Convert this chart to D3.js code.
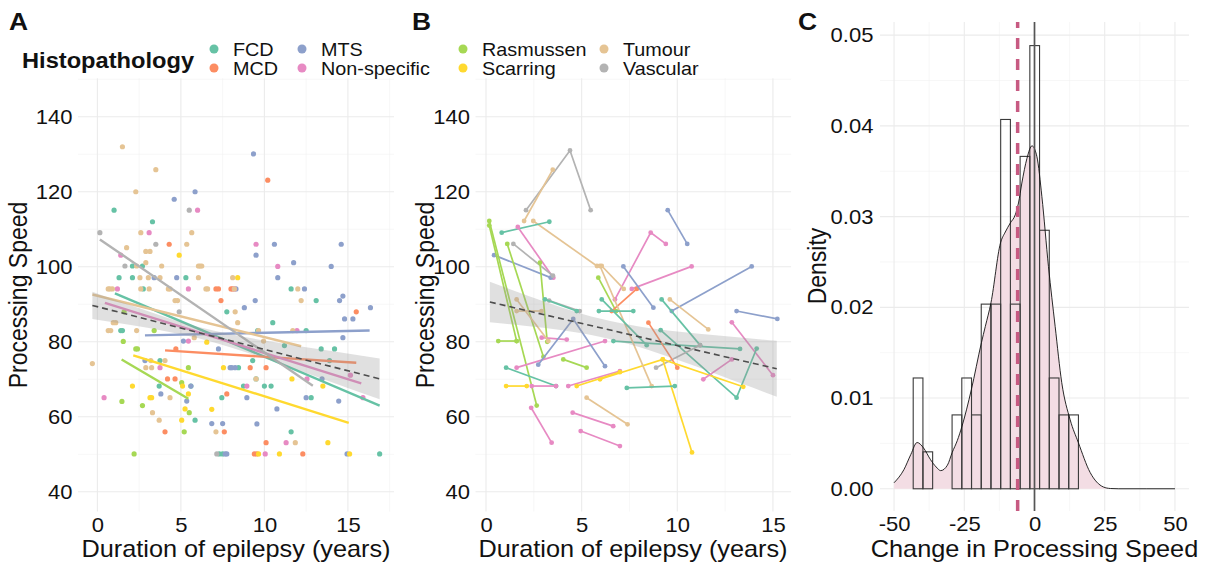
<!DOCTYPE html>
<html><head><meta charset="utf-8">
<script src="https://cdn.jsdelivr.net/npm/d3@7"></script>
<style>body{margin:0;background:#fff} svg text{font-family:"Liberation Sans",Arial,sans-serif;fill:#111}</style>
</head><body>
<svg id="c" width="1209" height="570"></svg>
<script>
// ---------------- DATA ----------------
const categories = ["FCD","MCD","MTS","Non-specific","Rasmussen","Scarring","Tumour","Vascular"];
const palette = ["#66C2A5","#FC8D62","#8DA0CB","#E78AC3","#A6D854","#FFD92F","#E5C494","#B3B3B3"];

const xTicksAB = [0,5,10,15];
const yTicksAB = [40,60,80,100,120,140];
const xTicksC = [-50,-25,0,25,50];
const yTicksC = [0,0.01,0.02,0.03,0.04,0.05];

// Panel A: [duration, processing speed] per histopathology
const aFCD = [[1.0,115.1],[3.3,112.0],[2.1,100.2],[2.7,100.2],[1.3,97.1],[2.1,97.1],[5.3,97.1],[2.75,94.1],[1.4,83.0],[1.5,83.0],[3.75,75.0],[3.7,68.2],[5.6,68.2],[5.85,59.1],[7.45,65.1],[7.3,50.1],[7.5,50.1],[7.75,88.0],[11.6,94.1],[13.1,91.0],[10.5,85.1],[9.6,83.0],[12.5,83.0],[11.2,79.0],[13.4,78.1],[14.2,78.1],[9.3,75.0],[13.9,75.0],[8.45,73.1],[9.5,70.1],[8.75,68.2],[10.0,68.2],[10.4,68.2],[12.8,65.1],[11.6,56.0],[16.9,50.1]];
const aMCD = [[4.3,106.0],[10.2,123.1],[4.2,70.1],[4.65,70.1],[7.75,66.1],[4.05,56.0],[7.6,56.0],[7.1,94.1],[7.25,94.1],[8.0,94.1],[7.4,91.0],[15.5,88.0],[9.15,73.1],[10.1,73.1],[10.1,53.1],[9.4,50.1],[9.55,50.1],[12.3,50.1],[4.7,78.1],[8.1,94.1]];
const aMTS = [[4.6,118.0],[5.85,120.0],[9.35,130.1],[9.5,103.1],[10.6,106.0],[14.6,106.0],[11.75,101.1],[14.0,100.1],[10.8,97.1],[3.4,97.1],[4.75,97.1],[12.4,94.1],[8.3,94.1],[9.45,91.0],[14.5,91.0],[14.7,92.2],[8.8,89.1],[16.35,89.1],[14.8,86.1],[15.3,86.1],[14.7,81.1],[5.15,80.2],[7.25,78.1],[2.85,75.0],[7.95,73.1],[8.25,73.1],[8.05,73.1],[13.45,70.1],[3.8,66.1],[5.6,68.2],[5.35,64.2],[8.95,65.1],[12.5,65.1],[14.45,64.2],[10.75,62.1],[6.85,58.2],[7.5,58.2],[9.55,58.1],[14.95,50.1],[7.65,50.1],[7.75,50.1]];
const aNonSpecific = [[6.0,115.1],[3.1,109.1],[9.5,106.0],[10.8,100.1],[1.4,103.1],[1.2,94.1],[5.45,94.1],[8.2,94.1],[11.95,83.0],[5.45,80.2],[3.75,73.1],[0.4,65.1],[15.15,71.1],[12.55,70.1],[8.95,68.2],[15.9,65.1],[11.3,53.1],[10.05,50.1]];
const aRasmussen = [[1.47,64.1],[1.55,80.1],[1.6,88.0],[2.2,50.1],[2.3,78.1],[2.4,78.1],[2.7,63.0],[3.4,83.0],[5.05,69.1],[5.45,73.1],[5.5,61.1],[5.2,56.0]];
const aScarring = [[4.9,103.1],[8.4,97.1],[2.1,68.2],[3.15,65.1],[3.25,65.1],[5.1,68.2],[5.45,66.1],[5.25,62.1],[5.05,59.1],[6.85,62.0],[7.55,73.1],[6.55,79.9],[11.65,70.1],[13.5,68.2],[13.8,53.1],[9.65,50.1],[10.9,50.1],[15.1,50.1]];
const aTumour = [[1.5,132],[3.5,125.9],[2.3,120],[2.6,109.1],[5.65,109.1],[5.35,106],[1.75,105.1],[2.9,104.1],[3.15,104.1],[2.35,100.2],[2.9,101.1],[3.85,100.2],[6.05,100.2],[6.15,100.2],[6.25,100.2],[2.55,97.1],[3.05,97.1],[3.75,97.1],[6.05,97.1],[8.1,97.1],[0.65,94.1],[0.75,94.1],[0.9,94.1],[2.6,94.1],[3.1,94.1],[4.25,94.1],[4.35,94.1],[6.5,94.1],[6.6,94.1],[8.2,94.1],[12.0,94.1],[4.65,91.0],[4.8,91.0],[12.2,91.0],[8.25,88.0],[0.65,83],[0.8,83],[0.95,85.1],[1.1,85.1],[2.35,83],[8.4,85.1],[9.65,83],[11.7,83],[5.8,81.1],[9.95,80.2],[2.9,73.1],[3.25,73.1],[3.2,75.0],[4.05,75.0],[4.35,65.1],[3.3,61.1],[3.7,59.1],[7.1,56.0],[9.5,70.1],[11.85,53.1],[-0.3,74.2]];
const aVascular = [[0.15,109.1],[5.5,115.1],[3.5,106],[1.65,100.2],[4.9,88.0],[7.15,50.1]];
const pointsA = [aFCD,aMCD,aMTS,aNonSpecific,aRasmussen,aScarring,aTumour,aVascular];

// Panel A per-group linear fits: start and end [x, y]
const fitStartA = [[1.05,92.9],[4.05,77.7],[2.85,81.7],[0.45,90.4],[1.45,75.3],[2.15,76.4],[-0.3,92.6],[0.15,107.3]];
const fitEndA   = [[16.9,63.0],[15.5,74.4],[16.3,83.0],[15.8,68.9],[5.45,64.8],[15.05,58.4],[12.2,78.8],[12.9,68.3]];

// Panel A overall fit with confidence band
const bandAx = [-0.3,2,4,6,8,10,12,14,16.9];
const bandAlo = [86.05,84.45,82.9,81.0,78.5,75.6,72.45,69.25,64.65];
const bandAhi = [93.35,89.71,86.7,84.0,82.0,80.35,78.9,77.55,75.55];
const fitAllA = [[-0.3,89.7],[16.9,70.1]];

// Panel B: each patient's repeated assessments [duration, speed]
const patientsB = [
 ["Vascular",[[2.09,115.1],[4.39,131.0],[5.47,115.1]]],
 ["Tumour",[[1.99,112.2],[3.49,125.9]]],
 ["Tumour",[[2.47,112.2],[5.8,100.2]]],
 ["FCD",[[0.82,109.1],[3.31,112.0]]],
 ["Non-specific",[[1.66,110.6],[3.52,97.1]]],
 ["MTS",[[0.42,103.1],[3.38,97.1]]],
 ["Vascular",[[1.43,106.1],[3.5,97.6]]],
 ["Rasmussen",[[0.17,112.2],[2.65,63.0]]],
 ["Rasmussen",[[0.17,111.0],[1.6,80.2]]],
 ["Rasmussen",[[1.11,106.1],[3.0,76.0]]],
 ["Rasmussen",[[2.82,101.1],[3.2,80.0]]],
 ["Rasmussen",[[0.64,80.2],[1.6,80.2]]],
 ["Rasmussen",[[5.87,97.1],[6.8,88.2]]],
 ["MTS",[[9.5,115.1],[10.52,106.1]]],
 ["Non-specific",[[6.74,91.3],[8.61,109.1],[9.4,106.1]]],
 ["Non-specific",[[7.62,94.1],[10.75,100.1]]],
 ["MCD",[[6.57,88.2],[7.88,94.1]]],
 ["MTS",[[7.18,100.1],[8.75,89.1]]],
 ["MTS",[[9.71,88.2],[13.89,100.1]]],
 ["Tumour",[[9.61,91.3],[11.62,83.3]]],
 ["FCD",[[9.18,91.3],[11.19,79.1]]],
 ["MTS",[[13.1,88.2],[15.23,86.1]]],
 ["Non-specific",[[12.85,85.2],[15.0,71.1]]],
 ["FCD",[[9.13,83.1],[13.1,65.1],[14.15,78.2]]],
 ["FCD",[[6.66,80.2],[13.28,78.1]]],
 ["Vascular",[[8.89,73.1],[11.19,79.1]]],
 ["MCD",[[8.49,85.1],[10.0,73.1]]],
 ["Scarring",[[5.96,70.0],[9.24,75.3],[13.45,68.0]]],
 ["Scarring",[[9.24,75.3],[10.77,50.5]]],
 ["Non-specific",[[11.36,70.0],[12.85,75.3]]],
 ["Tumour",[[5.96,100.2],[8.66,68.2]]],
 ["Tumour",[[6.05,100.2],[7.2,94.1]]],
 ["FCD",[[6.05,91.3],[8.4,79.1]]],
 ["FCD",[[5.9,88.2],[7.7,88.2]]],
 ["FCD",[[7.36,67.7],[9.87,68.2]]],
 ["FCD",[[1.05,73.1],[3.66,68.2]]],
 ["Scarring",[[1.05,68.2],[2.13,68.2]]],
 ["Non-specific",[[2.39,68.2],[3.66,68.2]]],
 ["Non-specific",[[1.6,73.1],[6.22,80.2]]],
 ["Non-specific",[[2.91,81.1],[4.22,80.6]]],
 ["Non-specific",[[2.36,62.4],[3.43,53.1]]],
 ["Non-specific",[[4.53,61.1],[6.65,57.5]]],
 ["Non-specific",[[4.95,56.2],[7.0,52.2]]],
 ["Non-specific",[[4.3,68.2],[7.0,72.2]]],
 ["Scarring",[[4.74,68.2],[7.0,71.9]]],
 ["MTS",[[2.73,73.9],[4.56,86.1],[6.22,73.5]]],
 ["Tumour",[[1.6,91.3],[3.26,80.2]]],
 ["Tumour",[[1.6,88.2],[2.9,88.2]]],
 ["Vascular",[[3.3,91.0],[4.9,88.2]]],
 ["FCD",[[3.08,91.3],[4.74,88.2]]],
 ["Rasmussen",[[4.04,75.3],[5.26,73.1]]],
 ["Tumour",[[5.26,65.1],[7.4,58.0]]]
];

// Panel B overall fit with confidence band
const bandBx = [0.2,2,4,6,8,10,12,14,15.2];
const bandBlo = [85.2,84.29,83.08,81.3,78.59,75.18,71.47,67.65,65.34];
const bandBhi = [96.0,92.63,89.1,86.12,84.09,82.76,81.71,80.79,80.26];
const fitAllB = [[0.2,90.6],[15.2,72.8]];

// Panel C: histogram of change in processing speed
const binStart = -43.18, binWidth = 3.46;
const binCounts = [3,1,0,0,2,3,2,5,5,10,5,9,12,7,3,2,2];
const densX = [-50,-46.5,-44,-41.8,-39.5,-37,-35,-33.4,-31,-29.3,-27.5,-25.8,-22.5,-18.9,-17.5,-15.5,-12.1,-10.4,-8.6,-6.85,-5.7,-4.5,-2.7,-0.9,0.86,2.63,4.97,7.35,9.7,12.7,15.6,19.8,24.5,27,30,40,50];
const densY = [0.00066,0.0021,0.0038,0.0051,0.0045,0.0032,0.0024,0.0020,0.0026,0.0040,0.0053,0.0069,0.0109,0.0161,0.0179,0.0205,0.0271,0.0283,0.0293,0.0302,0.0315,0.0337,0.0364,0.0378,0.0366,0.0322,0.0245,0.0179,0.0117,0.0076,0.0051,0.0018,0.0002,0.00003,0,0,0];
const meanChange = -6.0;

// ---------------- DRAW ----------------
const SX = 1.1; // horizontal text stretch of the original figure
const svg = d3.select("#c");
const FONT = '"Liberation Sans",Arial,sans-serif';

function label(x, y, str, size, opts={}) {
  const g = svg.append("g").attr("transform", `translate(${x},${y}) scale(${SX},1)` + (opts.rotate ? ` rotate(${opts.rotate})` : ""));
  g.append("text").attr("text-anchor", opts.anchor || "start").attr("font-size", size)
    .attr("font-weight", opts.weight || "normal").text(str);
}

function grid(x, y, xMajor, xMinor, yMajor, yMinor) {
  const g = svg.append("g");
  const [x0, x1] = x.range(), [y0, y1] = y.range();
  const vl = (vals, w, c) => g.selectAll(null).data(vals).enter().append("line")
      .attr("x1", d => x(d)).attr("x2", d => x(d)).attr("y1", y0).attr("y2", y1)
      .attr("stroke", c).attr("stroke-width", w);
  const hl = (vals, w, c) => g.selectAll(null).data(vals).enter().append("line")
      .attr("y1", d => y(d)).attr("y2", d => y(d)).attr("x1", x0).attr("x2", x1)
      .attr("stroke", c).attr("stroke-width", w);
  vl(xMinor, 0.6, "#F2F2F2"); hl(yMinor, 0.6, "#F2F2F2");
  vl(xMajor, 1.1, "#EBEBEB"); hl(yMajor, 1.1, "#EBEBEB");
}

function axes(x, y, xt, yt, yfmt, pad) {
  const gx = svg.append("g").attr("transform", `translate(0,${y.range()[0]})`)
    .call(d3.axisBottom(x).tickValues(xt).tickFormat(d => String(d)).tickSize(0).tickPadding(6));
  const gy = svg.append("g").attr("transform", `translate(${x.range()[0]},0)`)
    .call(d3.axisLeft(y).tickValues(yt).tickFormat(yfmt).tickSize(0).tickPadding(pad));
  [gx, gy].forEach(g => {
    g.select(".domain").remove();
    g.attr("font-family", FONT).attr("font-size", 20);
    g.selectAll("text").attr("fill", "#111").attr("transform", `scale(${SX},1)`);
  });
}

// ===== Panel A =====
const xA = d3.scaleLinear().domain([-1.16, 17.76]).range([78, 394]);
const yA = d3.scaleLinear().domain([34.75, 150.25]).range([511.5, 78.3]);
grid(xA, yA, xTicksAB, [2.5,7.5,12.5,17.5], yTicksAB, [50,70,90,110,130,150]);
axes(xA, yA, xTicksAB, yTicksAB, d => String(d), 5);

const gA = svg.append("g");
pointsA.forEach((pts, i) => {
  gA.selectAll(null).data(pts).enter().append("circle")
    .attr("cx", d => xA(d[0])).attr("cy", d => yA(d[1])).attr("r", 2.6)
    .attr("fill", palette[i]);
});
categories.forEach((c, i) => {
  gA.append("line").attr("x1", xA(fitStartA[i][0])).attr("y1", yA(fitStartA[i][1]))
    .attr("x2", xA(fitEndA[i][0])).attr("y2", yA(fitEndA[i][1]))
    .attr("stroke", palette[i]).attr("stroke-width", 2.4);
});
const bandA = bandAx.map((v, i) => [v, bandAlo[i], bandAhi[i]]);
gA.append("path").datum(bandA)
  .attr("d", d3.area().x(d => xA(d[0])).y0(d => yA(d[1])).y1(d => yA(d[2])).curve(d3.curveMonotoneX))
  .attr("fill", "#999").attr("fill-opacity", 0.3);
gA.append("line").attr("x1", xA(fitAllA[0][0])).attr("y1", yA(fitAllA[0][1]))
  .attr("x2", xA(fitAllA[1][0])).attr("y2", yA(fitAllA[1][1]))
  .attr("stroke", "#4d4d4d").attr("stroke-width", 1.6).attr("stroke-dasharray", "6,4");

// ===== Panel B =====
const xB = d3.scaleLinear().domain([-0.55, 15.95]).range([475.5, 791.1]);
const yB = d3.scaleLinear().domain([34.75, 150.25]).range([511.5, 78.3]);
grid(xB, yB, xTicksAB, [2.5,7.5,12.5], yTicksAB, [50,70,90,110,130,150]);
axes(xB, yB, xTicksAB, yTicksAB, d => String(d), 5);

const gB = svg.append("g");
const lineB = d3.line().x(d => xB(d[0])).y(d => yB(d[1]));
patientsB.forEach(([grp, pts]) => {
  const col = palette[categories.indexOf(grp)];
  gB.append("path").attr("d", lineB(pts)).attr("fill", "none").attr("stroke", col).attr("stroke-width", 1.7);
  gB.selectAll(null).data(pts).enter().append("circle")
    .attr("cx", d => xB(d[0])).attr("cy", d => yB(d[1])).attr("r", 2.4).attr("fill", col);
});
const bandB = bandBx.map((v, i) => [v, bandBlo[i], bandBhi[i]]);
gB.append("path").datum(bandB)
  .attr("d", d3.area().x(d => xB(d[0])).y0(d => yB(d[1])).y1(d => yB(d[2])).curve(d3.curveMonotoneX))
  .attr("fill", "#999").attr("fill-opacity", 0.3);
gB.append("line").attr("x1", xB(fitAllB[0][0])).attr("y1", yB(fitAllB[0][1]))
  .attr("x2", xB(fitAllB[1][0])).attr("y2", yB(fitAllB[1][1]))
  .attr("stroke", "#4d4d4d").attr("stroke-width", 1.6).attr("stroke-dasharray", "6,4");

// ===== Panel C =====
const xC = d3.scaleLinear().domain([-55, 55]).range([880, 1189]);
const yC = d3.scaleLinear().domain([-0.00245, 0.05145]).range([511, 22]);
grid(xC, yC, xTicksC, [-37.5,-12.5,12.5,37.5], yTicksC, [0.005,0.015,0.025,0.035,0.045]);
axes(xC, yC, xTicksC, yTicksC, d3.format(".2f"), 6);

const N = d3.sum(binCounts);
const bins = binCounts.map((c, i) => ({x0: binStart + i*binWidth, x1: binStart + (i+1)*binWidth, d: c/(N*binWidth)}));
const dens = densX.map((v, i) => [v, densY[i]]);
const gC = svg.append("g");
gC.append("path").datum(dens)
  .attr("d", d3.area().x(d => xC(d[0])).y0(yC(0)).y1(d => yC(d[1])).curve(d3.curveMonotoneX))
  .attr("fill", "#F3DDE4");
gC.selectAll(null).data(bins).enter().append("rect")
  .attr("x", d => xC(d.x0)).attr("width", d => xC(d.x1) - xC(d.x0))
  .attr("y", d => yC(d.d)).attr("height", d => yC(0) - yC(d.d))
  .attr("fill", "none").attr("stroke", "#3a3a3a").attr("stroke-width", 1.1);
gC.append("path").datum(dens)
  .attr("d", d3.line().x(d => xC(d[0])).y(d => yC(d[1])).curve(d3.curveMonotoneX))
  .attr("fill", "none").attr("stroke", "#111").attr("stroke-width", 0.9);
gC.append("line").attr("x1", xC(meanChange)).attr("x2", xC(meanChange)).attr("y1", 511).attr("y2", 22)
  .attr("stroke", "#C75A82").attr("stroke-width", 3.5).attr("stroke-dasharray", "11,10");
gC.append("line").attr("x1", xC(0)).attr("x2", xC(0)).attr("y1", 511).attr("y2", 22)
  .attr("stroke", "#555").attr("stroke-width", 1.7);

// ===== Text: titles, panel letters, legend =====
label(236, 557, "Duration of epilepsy (years)", 23, {anchor: "middle"});
label(633, 557, "Duration of epilepsy (years)", 23, {anchor: "middle"});
label(1034.5, 557, "Change in Processing Speed", 23, {anchor: "middle"});
label(27, 295, "Processing Speed", 23, {anchor: "middle", rotate: -90});
label(434, 295, "Processing Speed", 23, {anchor: "middle", rotate: -90});
label(826, 266, "Density", 23, {anchor: "middle", rotate: -90});
label(9, 30, "A", 24, {weight: "bold"});
label(412, 30, "B", 24, {weight: "bold"});
label(798, 30, "C", 24, {weight: "bold"});

label(22, 68, "Histopathology", 21.5, {weight: "bold"});
const legX = [214, 302, 463, 604];
const legY = [49, 68];
categories.forEach((c, i) => {
  const col = Math.floor(i / 2), row = i % 2;
  svg.append("circle").attr("cx", legX[col]).attr("cy", legY[row]).attr("r", 4.5).attr("fill", palette[i]);
  label(legX[col] + 19, legY[row] + 6.5, c, 18);
});
</script>
</body></html>
